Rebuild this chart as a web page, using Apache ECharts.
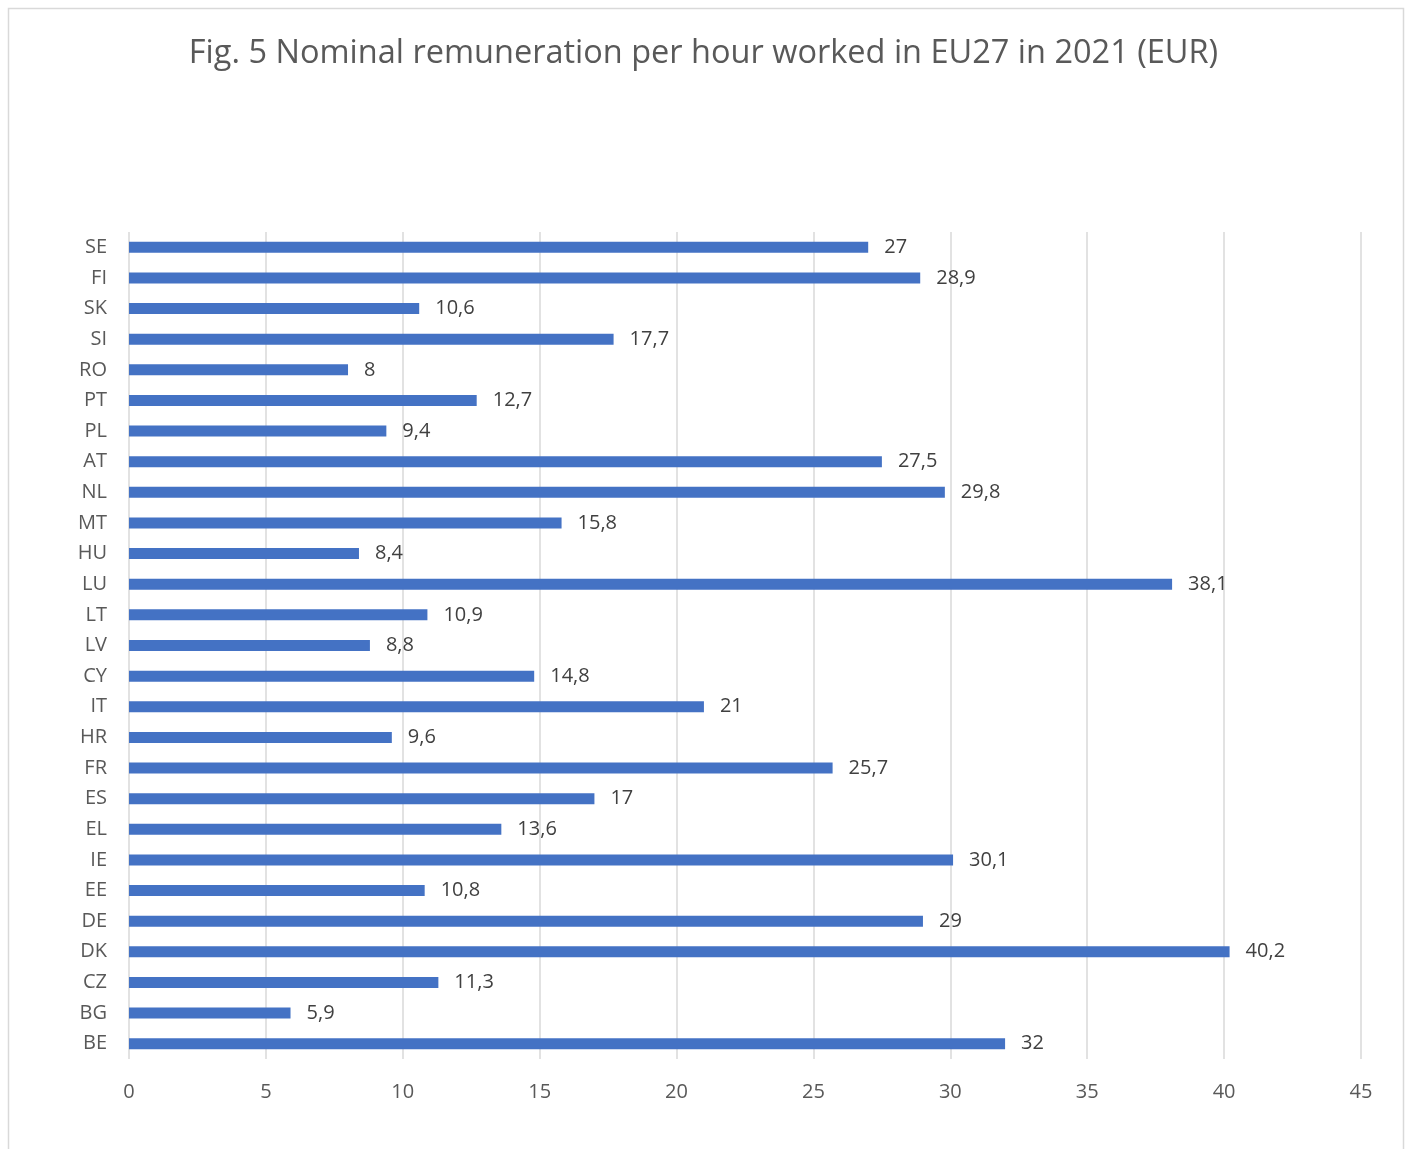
<!DOCTYPE html>
<html>
<head>
<meta charset="utf-8">
<script src="https://cdn.jsdelivr.net/npm/echarts@6/dist/echarts.min.js"></script>
<style>
  html, body { margin: 0; padding: 0; background: #fff; }
  #chart { width: 1407px; height: 1149px; }
</style>
</head>
<body>
<div id="chart"></div>
<script>
// countries, bottom to top (ECharts category y axis starts at the bottom)
const countries = ['BE', 'BG', 'CZ', 'DK', 'DE', 'EE', 'IE', 'EL', 'ES', 'FR', 'HR', 'IT', 'CY', 'LV',
  'LT', 'LU', 'HU', 'MT', 'NL', 'AT', 'PL', 'PT', 'RO', 'SI', 'SK', 'FI', 'SE'];
const remuneration = [32, 5.9, 11.3, 40.2, 29, 10.8, 30.1, 13.6, 17, 25.7, 9.6, 21, 14.8, 8.8,
  10.9, 38.1, 8.4, 15.8, 29.8, 27.5, 9.4, 12.7, 8, 17.7, 10.6, 28.9, 27];
const titleText = 'Fig. 5 Nominal remuneration per hour worked in EU27 in 2021 (EUR)';

const font = 'Open Sans';
const chart = echarts.init(document.getElementById('chart'));

chart.setOption({
  animation: false,
  backgroundColor: '#fff',
  graphic: [{
    type: 'rect',
    shape: { x: 8.5, y: 8.5, width: 1395, height: 1160 },
    style: { fill: 'none', stroke: '#D9D9D9', lineWidth: 1.5 },
    silent: true
  }],
  title: {
    text: titleText,
    left: 'center',
    top: 32,
    textStyle: { fontFamily: font, fontSize: 32.5, fontWeight: 'normal', color: '#595959' }
  },
  grid: { left: 129, right: 46, top: 232, bottom: 90, containLabel: false },
  xAxis: {
    type: 'value',
    min: 0,
    max: 45,
    interval: 5,
    axisLine: { show: false },
    axisTick: { show: false },
    splitLine: { lineStyle: { color: '#D9D9D9', width: 1.5 } },
    axisLabel: { fontFamily: font, fontSize: 20, color: '#595959', margin: 23 }
  },
  yAxis: {
    type: 'category',
    data: countries,
    axisLine: { show: false },
    axisTick: { show: false },
    axisLabel: { fontFamily: font, fontSize: 20, color: '#595959', margin: 22 }
  },
  series: [{
    type: 'bar',
    data: remuneration,
    barWidth: 11,
    itemStyle: { color: '#4472C4' },
    label: {
      show: true,
      position: 'right',
      distance: 16,
      fontFamily: font,
      fontSize: 20,
      color: '#404040',
      formatter: p => String(p.value).replace('.', ',')
    }
  }]
});
</script>
</body>
</html>
